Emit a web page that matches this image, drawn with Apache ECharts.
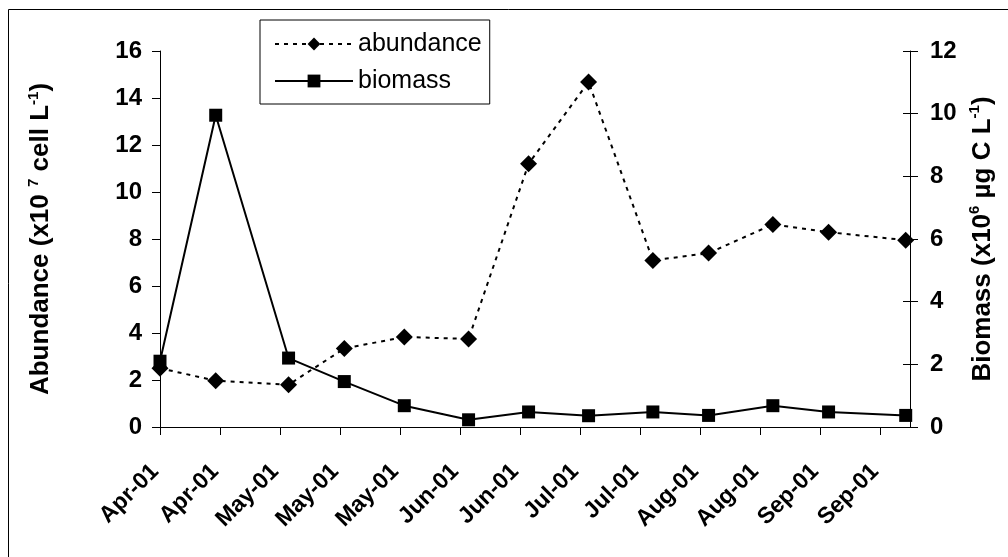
<!DOCTYPE html>
<html>
<head>
<meta charset="utf-8">
<script src="https://cdn.jsdelivr.net/npm/echarts@6/dist/echarts.min.js"></script>
<style>
html,body{margin:0;padding:0;background:#fff;}
#chart{width:1008px;height:557px;}
</style>
</head>
<body>
<div id="chart"></div>
<script>
// Sampling day offsets (days from first tick) and tick labels
const sampleDays = [0, 13, 30, 43, 57, 72, 86, 100, 115, 128, 143, 156, 174];
const tickLabels = ['Apr-01','Apr-01','May-01','May-01','May-01','Jun-01','Jun-01','Jul-01','Jul-01','Aug-01','Aug-01','Sep-01','Sep-01'];
const abundance = [2.5, 1.97, 1.8, 3.34, 3.83, 3.75, 11.2, 14.68, 7.09, 7.4, 8.62, 8.29, 7.95];
const biomass = [2.1, 9.95, 2.2, 1.45, 0.68, 0.23, 0.48, 0.36, 0.48, 0.37, 0.68, 0.48, 0.37];
const leftTicks = [0, 16, 2];
const rightTicks = [0, 12, 2];
const tickStep = 14;

const chart = echarts.init(document.getElementById('chart'));
const FONT = '"Liberation Sans", Arial, sans-serif';
const tickValues = tickLabels.map((_, i) => i * tickStep);

const titleRich = {
  m: { fontFamily: FONT, fontWeight: 'bold', fontSize: 26, color: '#000', lineHeight: 30 },
  s: { fontFamily: FONT, fontWeight: 'bold', fontSize: 15, color: '#000', lineHeight: 16, verticalAlign: 'top' }
};

const option = {
  animation: false,
  backgroundColor: '#fff',
  textStyle: { fontFamily: FONT, color: '#000' },
  graphic: [{
    type: 'rect', silent: true,
    shape: { x: 8.5, y: 9.5, width: 1200, height: 700 },
    style: { fill: 'none', stroke: '#000', lineWidth: 1 }
  }],
  grid: { left: 160, right: 98, top: 51, bottom: 130, containLabel: false },
  legend: {
    orient: 'vertical', left: 260, top: 20,
    padding: [11, 8, 10, 14],
    itemGap: 11, itemWidth: 78, itemHeight: 16,
    borderColor: '#000', borderWidth: 1,
    textStyle: { fontFamily: FONT, fontSize: 25, lineHeight: 26, color: '#000' },
    data: ['abundance', 'biomass']
  },
  xAxis: {
    type: 'value', min: 0, max: 175, interval: tickStep,
    splitLine: { show: false },
    axisLine: { show: true, onZero: false, lineStyle: { color: '#000', width: 1 } },
    axisTick: { show: true, length: 8, inside: false, customValues: tickValues, lineStyle: { color: '#000' } },
    axisLabel: {
      customValues: tickValues,
      rotate: 45, margin: 36, padding: [0, 7, 0, 0],
      fontFamily: FONT, fontWeight: 'bold', fontSize: 23, color: '#000',
      formatter: v => (v % tickStep === 0 && tickLabels[v / tickStep] !== undefined) ? tickLabels[v / tickStep] : ''
    }
  },
  yAxis: [{
    type: 'value', position: 'left', min: leftTicks[0], max: leftTicks[1], interval: leftTicks[2],
    splitLine: { show: false },
    axisLine: { show: true, lineStyle: { color: '#000', width: 1 } },
    axisTick: { show: true, length: 8, lineStyle: { color: '#000' } },
    axisLabel: { margin: 18, fontFamily: FONT, fontWeight: 'bold', fontSize: 24, color: '#000' },
    name: '{m|Abundance (x10 }{s|7}{m| cell L}{s|-1}{m|)}',
    nameLocation: 'middle', nameGap: 104, nameRotate: 90,
    nameTextStyle: { rich: titleRich }
  }, {
    type: 'value', position: 'right', min: rightTicks[0], max: rightTicks[1], interval: rightTicks[2],
    splitLine: { show: false },
    axisLine: { show: true, lineStyle: { color: '#000', width: 1 } },
    axisTick: { show: true, length: 8, lineStyle: { color: '#000' } },
    axisLabel: { margin: 20, fontFamily: FONT, fontWeight: 'bold', fontSize: 24, color: '#000' },
    name: '{m|Biomass (x10}{s|6}{m| µg C L}{s|-1}{m|)}',
    nameLocation: 'middle', nameGap: 56, nameRotate: 90,
    nameTextStyle: { rich: titleRich }
  }, {
    type: 'value', position: 'right', min: rightTicks[0], max: rightTicks[1], interval: rightTicks[2],
    splitLine: { show: false },
    axisLine: { show: false },
    axisTick: { show: true, inside: true, length: 7, lineStyle: { color: '#000' } },
    axisLabel: { show: false }
  }],
  series: [{
    name: 'abundance', type: 'line', yAxisIndex: 0,
    data: sampleDays.map((d, i) => [d, abundance[i]]),
    symbol: 'diamond', symbolSize: 17,
    itemStyle: { color: '#000' },
    lineStyle: { color: '#000', width: 2, type: [4, 5] }
  }, {
    name: 'biomass', type: 'line', yAxisIndex: 1,
    data: sampleDays.map((d, i) => [d, biomass[i]]),
    symbol: 'rect', symbolSize: 13,
    itemStyle: { color: '#000' },
    lineStyle: { color: '#000', width: 2 }
  }]
};
chart.setOption(option);
</script>
</body>
</html>
